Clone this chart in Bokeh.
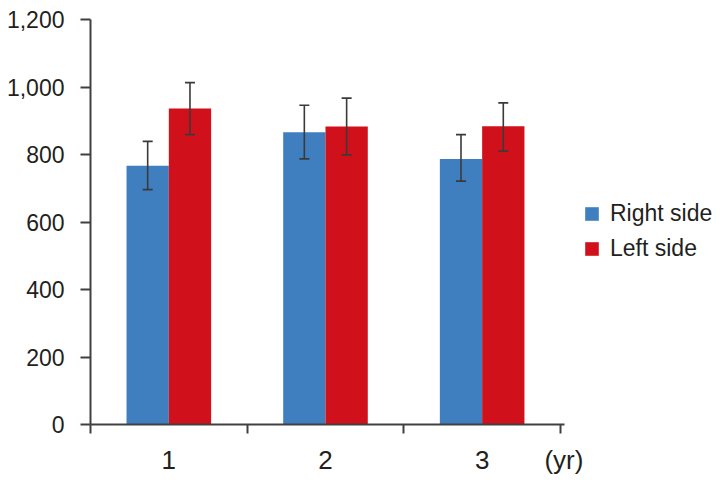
from bokeh.plotting import figure
from bokeh.models import (ColumnDataSource, FixedTicker, Whisker, TeeHead, Legend,
                          LegendItem, Range1d)
from bokeh.transform import dodge
from bokeh.embed import file_html
from bokeh.resources import INLINE
import numpy as np

# ---- data ----
years = ["1", "2", "3"]
right_side = [767, 866, 787]
right_err_low = [696, 787, 721]
right_err_high = [839, 946, 859]
left_side = [936, 883, 884]
left_err_low = [859, 799, 810]
left_err_high = [1013, 967, 953]
y_ticks = [0, 200, 400, 600, 800, 1000, 1200]
y_tick_labels = ["0", "200", "400", "600", "800", "1,000", "1,200"]
x_unit_label = "(yr)"

FONT = "Liberation Sans"
TEXT = "#231f20"
AXIS = "#404040"
BLUE = "#3f7fbf"
RED = "#d0111b"

n = len(years)
pos = (np.arange(n) + 0.5).tolist()
unit_pos = n + 0.022
src = ColumnDataSource(dict(pos=pos, right=right_side, rlo=right_err_low, rhi=right_err_high,
                            left=left_side, llo=left_err_low, lhi=left_err_high))

# frame extends to the right edge (room for the legend); axis line bounded
p = figure(width=724, height=488, output_backend="svg", toolbar_location=None,
           x_range=Range1d(0, 4.047), y_range=Range1d(0, 1200),
           min_border_left=90, min_border_right=0, min_border_top=19, min_border_bottom=64)
p.outline_line_color = None
p.grid.visible = False

bw = 0.27
rb = p.vbar(x=dodge("pos", -bw / 2, range=p.x_range), top="right", width=bw, bottom=0,
            source=src, fill_color=BLUE, line_color=None)
lb = p.vbar(x=dodge("pos", bw / 2, range=p.x_range), top="left", width=bw, bottom=0,
            source=src, fill_color=RED, line_color=None)

EC = "#3a3a3a"
for off, lo, hi in [(-bw / 2, "rlo", "rhi"), (bw / 2, "llo", "lhi")]:
    w = Whisker(base=dodge("pos", off, range=p.x_range), lower=lo, upper=hi, source=src,
                line_color=EC, line_width=1.6, level="overlay",
                upper_head=TeeHead(size=10, line_color=EC, line_width=1.6),
                lower_head=TeeHead(size=10, line_color=EC, line_width=1.6))
    p.add_layout(w)

# x axis: labels at centers, ticks at boundaries, unit label at the end
xa = p.xaxis[0]
xa.bounds = (0, unit_pos + 0.001)
xa.ticker = FixedTicker(ticks=pos + [unit_pos], minor_ticks=list(range(n + 1)))
overrides = {pv: y for pv, y in zip(pos, years)}
overrides[unit_pos] = x_unit_label
xa.major_label_overrides = overrides
xa.major_tick_out = 0
xa.major_tick_in = 0
xa.minor_tick_out = 9
xa.minor_tick_in = 0
xa.minor_tick_line_color = AXIS
xa.minor_tick_line_width = 2
xa.axis_line_color = AXIS
xa.axis_line_width = 2
xa.major_label_text_font = FONT
xa.major_label_text_font_size = "26px"
xa.major_label_text_color = TEXT
xa.major_label_standoff = 11

ya = p.yaxis[0]
ya.ticker = FixedTicker(ticks=y_ticks, minor_ticks=[])
ya.major_label_overrides = {t: l for t, l in zip(y_ticks, y_tick_labels)}
ya.major_tick_out = 10
ya.major_tick_in = 0
ya.major_tick_line_color = AXIS
ya.major_tick_line_width = 2
ya.axis_line_color = AXIS
ya.axis_line_width = 2
ya.major_label_text_font = FONT
ya.major_label_text_font_size = "23px"
ya.major_label_text_color = TEXT
ya.major_label_standoff = 16

legend = Legend(items=[LegendItem(label="Right side", renderers=[rb]),
                       LegendItem(label="Left side", renderers=[lb])],
                location=(493, 162), padding=0, margin=0, spacing=8,
                glyph_width=17, glyph_height=17, label_standoff=10,
                label_text_font=FONT, label_text_font_size="23px", label_text_color=TEXT,
                border_line_alpha=0, background_fill_alpha=0)
p.add_layout(legend, "center")

open("out.html", "w").write(file_html(p, INLINE))
